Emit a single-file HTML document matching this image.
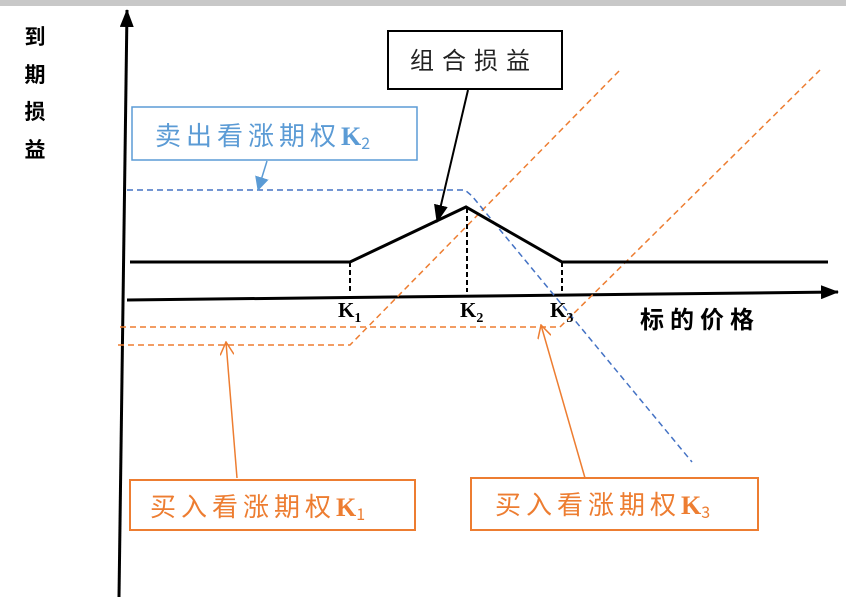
<!DOCTYPE html>
<html><head><meta charset="utf-8"><style>
body{margin:0;background:#fff;width:846px;height:597px;overflow:hidden;font-family:"Liberation Serif","Noto Serif CJK SC","Noto Sans CJK SC",serif;}
svg{position:absolute;left:0;top:0}
</style></head><body>
<svg width="846" height="597" viewBox="0 0 846 597" xmlns="http://www.w3.org/2000/svg">
<defs>
<marker id="abig" markerWidth="18" markerHeight="14" refX="17" refY="7" orient="auto" markerUnits="userSpaceOnUse"><path d="M0,0 L18,7 L0,14 z" fill="#000"/></marker>
<marker id="ablue" markerWidth="14" markerHeight="14" refX="13" refY="7" orient="auto" markerUnits="userSpaceOnUse"><path d="M0,0 L14,7 L0,14 z" fill="#5b9bd5"/></marker>
<marker id="aor" markerWidth="14" markerHeight="14" refX="13" refY="7" orient="auto" markerUnits="userSpaceOnUse"><path d="M0,0 L13,7 L0,14" fill="none" stroke="#ed7d31" stroke-width="1.5"/></marker>
</defs>
<rect x="0" y="0" width="846" height="6" fill="#c8c8c8"/>
<line x1="119" y1="597" x2="127" y2="10" stroke="#000" stroke-width="3" marker-end="url(#abig)"/>
<line x1="127" y1="300" x2="838" y2="292" stroke="#000" stroke-width="3" marker-end="url(#abig)"/>
<polyline points="118,345 350,345 620,70" fill="none" stroke="#ed7d31" stroke-width="1.5" stroke-dasharray="6,4"/>
<polyline points="120,327 560,327 820,70" fill="none" stroke="#ed7d31" stroke-width="1.5" stroke-dasharray="6,4"/>
<polyline points="127,190 465,190 472,196 692,462" fill="none" stroke="#4472c4" stroke-width="1.5" stroke-dasharray="6,4"/>
<polyline points="130,262 350,262 466,207 562,262 828,262" fill="none" stroke="#000" stroke-width="3"/>
<line x1="350" y1="262" x2="350" y2="294" stroke="#000" stroke-width="2" stroke-dasharray="5,3"/>
<line x1="467" y1="208" x2="467" y2="292" stroke="#000" stroke-width="2" stroke-dasharray="5,3"/>
<line x1="562" y1="262" x2="562" y2="292" stroke="#000" stroke-width="2" stroke-dasharray="5,3"/>
<rect x="388" y="31" width="174" height="58" fill="#fff" stroke="#000" stroke-width="2"/>
<text x="410" y="69" font-size="24" letter-spacing="8" fill="#222" font-family="Noto Sans CJK SC,sans-serif">组合损益</text>
<line x1="468" y1="90" x2="437" y2="222" stroke="#000" stroke-width="2" marker-end="url(#abig)"/>
<rect x="132" y="107" width="285" height="53" fill="#fff" stroke="#5b9bd5" stroke-width="1.5"/>
<text x="155" y="145" font-size="26" letter-spacing="5" fill="#5b9bd5" font-family="Noto Sans CJK SC,sans-serif">卖出看涨期权<tspan font-family="Liberation Serif" font-weight="bold" letter-spacing="0">K</tspan><tspan font-size="16" dy="4">2</tspan></text>
<line x1="267" y1="161" x2="258" y2="190" stroke="#5b9bd5" stroke-width="1.5" marker-end="url(#ablue)"/>
<rect x="130" y="480" width="285" height="50" fill="#fff" stroke="#ed7d31" stroke-width="2"/>
<text x="150" y="516" font-size="26" letter-spacing="5" fill="#ed7d31" font-family="Noto Sans CJK SC,sans-serif">买入看涨期权<tspan font-family="Liberation Serif" font-weight="bold" letter-spacing="0">K</tspan><tspan font-size="16" dy="4">1</tspan></text>
<line x1="237" y1="478" x2="226" y2="342" stroke="#ed7d31" stroke-width="1.5" marker-end="url(#aor)"/>
<rect x="471" y="478" width="287" height="52" fill="#fff" stroke="#ed7d31" stroke-width="2"/>
<text x="495" y="514" font-size="26" letter-spacing="5" fill="#ed7d31" font-family="Noto Sans CJK SC,sans-serif">买入看涨期权<tspan font-family="Liberation Serif" font-weight="bold" letter-spacing="0">K</tspan><tspan font-size="16" dy="4">3</tspan></text>
<line x1="585" y1="478" x2="541" y2="325" stroke="#ed7d31" stroke-width="1.5" marker-end="url(#aor)"/>
<text x="338" y="317" font-size="21" font-weight="bold" fill="#000">K<tspan font-size="14" dy="5">1</tspan></text>
<text x="460" y="317" font-size="21" font-weight="bold" fill="#000">K<tspan font-size="14" dy="5">2</tspan></text>
<text x="550" y="317" font-size="21" font-weight="bold" fill="#000">K<tspan font-size="14" dy="5">3</tspan></text>
<text x="640" y="328" font-size="24" letter-spacing="6" fill="#000" font-family="Noto Sans CJK SC,sans-serif" font-weight="bold">标的价格</text>
<g font-size="21" font-weight="bold" fill="#000" font-family="Noto Sans CJK SC,sans-serif" text-anchor="middle">
<text x="35" y="44">到</text><text x="35" y="82">期</text><text x="35" y="119">损</text><text x="35" y="157">益</text>
</g>
</svg>
</body></html>
